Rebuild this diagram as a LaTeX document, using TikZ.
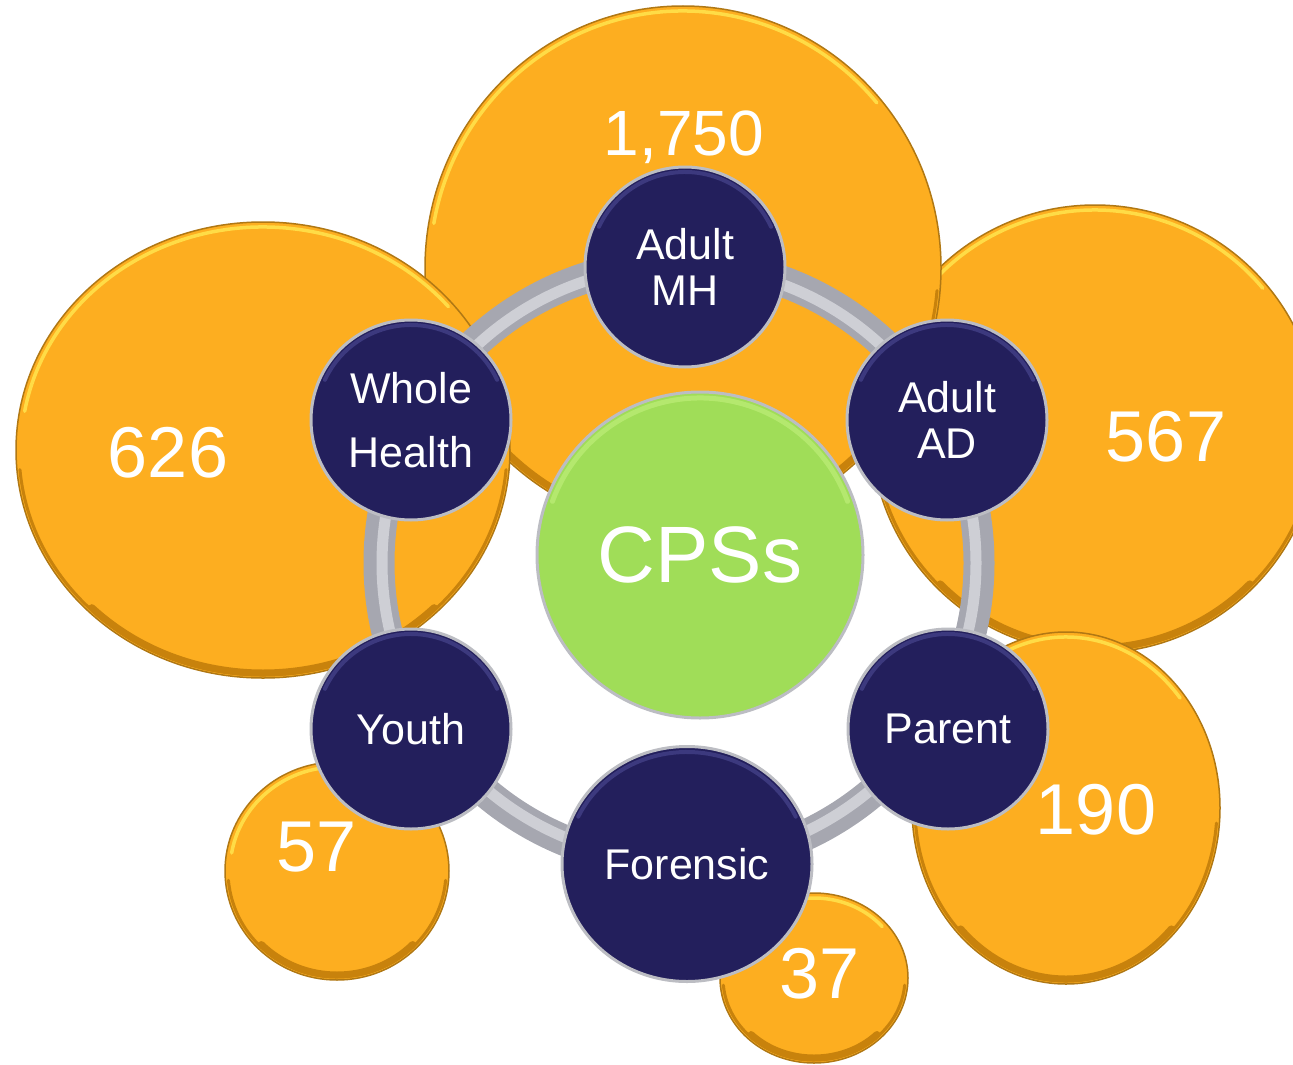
\documentclass[tikz,border=0pt]{standalone}
\usepackage{fontspec}
\setmainfont{Liberation Sans}
\usepackage{tikz}
\usetikzlibrary{shapes.geometric}
\definecolor{Bub}{RGB}{253,174,32}
\definecolor{BubEdge}{RGB}{176,120,20}
\definecolor{BubHi}{RGB}{255,220,70}
\definecolor{BubLo}{RGB}{200,130,12}
\definecolor{Hub}{RGB}{35,31,92}
\definecolor{HubHi}{RGB}{60,57,126}
\definecolor{Core}{RGB}{160,221,88}
\definecolor{CoreHi}{RGB}{180,232,110}
\definecolor{Rim}{RGB}{188,189,195}
\definecolor{Ring}{RGB}{166,167,176}
\definecolor{RingHi}{RGB}{206,207,213}

\newcommand{\Bubble}[4]{%
  \pgfmathsetmacro{\irx}{#3-3}\pgfmathsetmacro{\iry}{#4-3}
  \pgfmathsetmacro{\jrx}{#3-5}\pgfmathsetmacro{\jry}{#4-5}
  \fill[color=Bub] (#1,#2) ellipse (#3pt and #4pt);
  \draw[color=BubLo, line width=3pt, line cap=round] (#1,#2) ++(185:\irx pt and \iry pt) arc[start angle=185, end angle=355, x radius=\irx pt, y radius=\iry pt];
  \draw[color=BubLo, line width=7pt, line cap=round] (#1,#2) ++(225:\jrx pt and \jry pt) arc[start angle=225, end angle=315, x radius=\jrx pt, y radius=\jry pt];
  \draw[color=BubHi, line width=3.5pt, line cap=round] (#1,#2) ++(170:\jrx pt and \jry pt) arc[start angle=170, end angle=40, x radius=\jrx pt, y radius=\jry pt];
  \draw[color=BubEdge, line width=1.5pt] (#1,#2) ellipse (#3pt and #4pt);
}

\begin{document}
\begin{tikzpicture}[x=1pt, y=-1pt,
  hub/.style={ellipse, fill=Hub, draw=Rim, line width=3pt, text=white, inner sep=0pt,
    minimum width=200pt, minimum height=200pt, align=center, font=\fontsize{43}{46}\selectfont},
  core/.style={circle, fill=Core, draw=Rim, line width=3pt, text=white, inner sep=0pt,
    minimum size=326pt, text depth=0pt, font=\fontsize{80}{80}\selectfont},
  num/.style={text=white, inner sep=0pt, text depth=0pt, font=\fontsize{72}{72}\selectfont}]

\useasboundingbox (0,0) rectangle (1293,1065);

\Bubble{1095}{429}{224}{224}
\Bubble{683}{268}{258}{262}
\Bubble{263}{450}{247}{228}
\Bubble{1066}{808}{154}{176}
\Bubble{337}{871}{112}{109}
\Bubble{814}{978}{94}{85}

\coordinate (hubc) at (679,563);
\draw[color=Ring,   line width=31pt] (hubc) circle (300pt);
\draw[color=RingHi, line width=11pt] (hubc) circle (297pt);

\node[core] (cps) at (700,555) {CPSs};
\draw[color=CoreHi, line width=5pt, line cap=round] (cps.center) ++(160:157pt) arc[start angle=160, end angle=20, radius=157pt];

\node[hub] (mh) at (685,267) {Adult\\MH};
\node[hub, font=\fontsize{43}{64}\selectfont] (wh) at (411,420) {Whole\\Health};
\node[hub] (ad) at (947,420) {Adult\\AD};
\node[hub] (pa) at (948,729) {Parent};
\node[hub] (yo) at (411,729) {Youth};
\node[hub, minimum width=250pt, minimum height=235pt] (fo) at (687,864) {Forensic};

\foreach \n/\a/\b in {mh/95/95, wh/95/95, ad/95/95, pa/95/95, yo/95/95, fo/120/112}
  \draw[color=HubHi, line width=4pt, line cap=round] (\n.center) ++(155:\a pt and \b pt) arc[start angle=155, end angle=25, x radius=\a pt, y radius=\b pt];

\node[num, font=\fontsize{64}{64}\selectfont] (v1750) at (684,133) {1,750};
\node[num] (v626) at (168,452)  {626};
\node[num] (v567) at (1166,436) {567};
\node[num] (v190) at (1096,809) {190};
\node[num] (v57)  at (317,847)  {57};
\node[num] (v37)  at (820,973)  {37};

\end{tikzpicture}
\end{document}
